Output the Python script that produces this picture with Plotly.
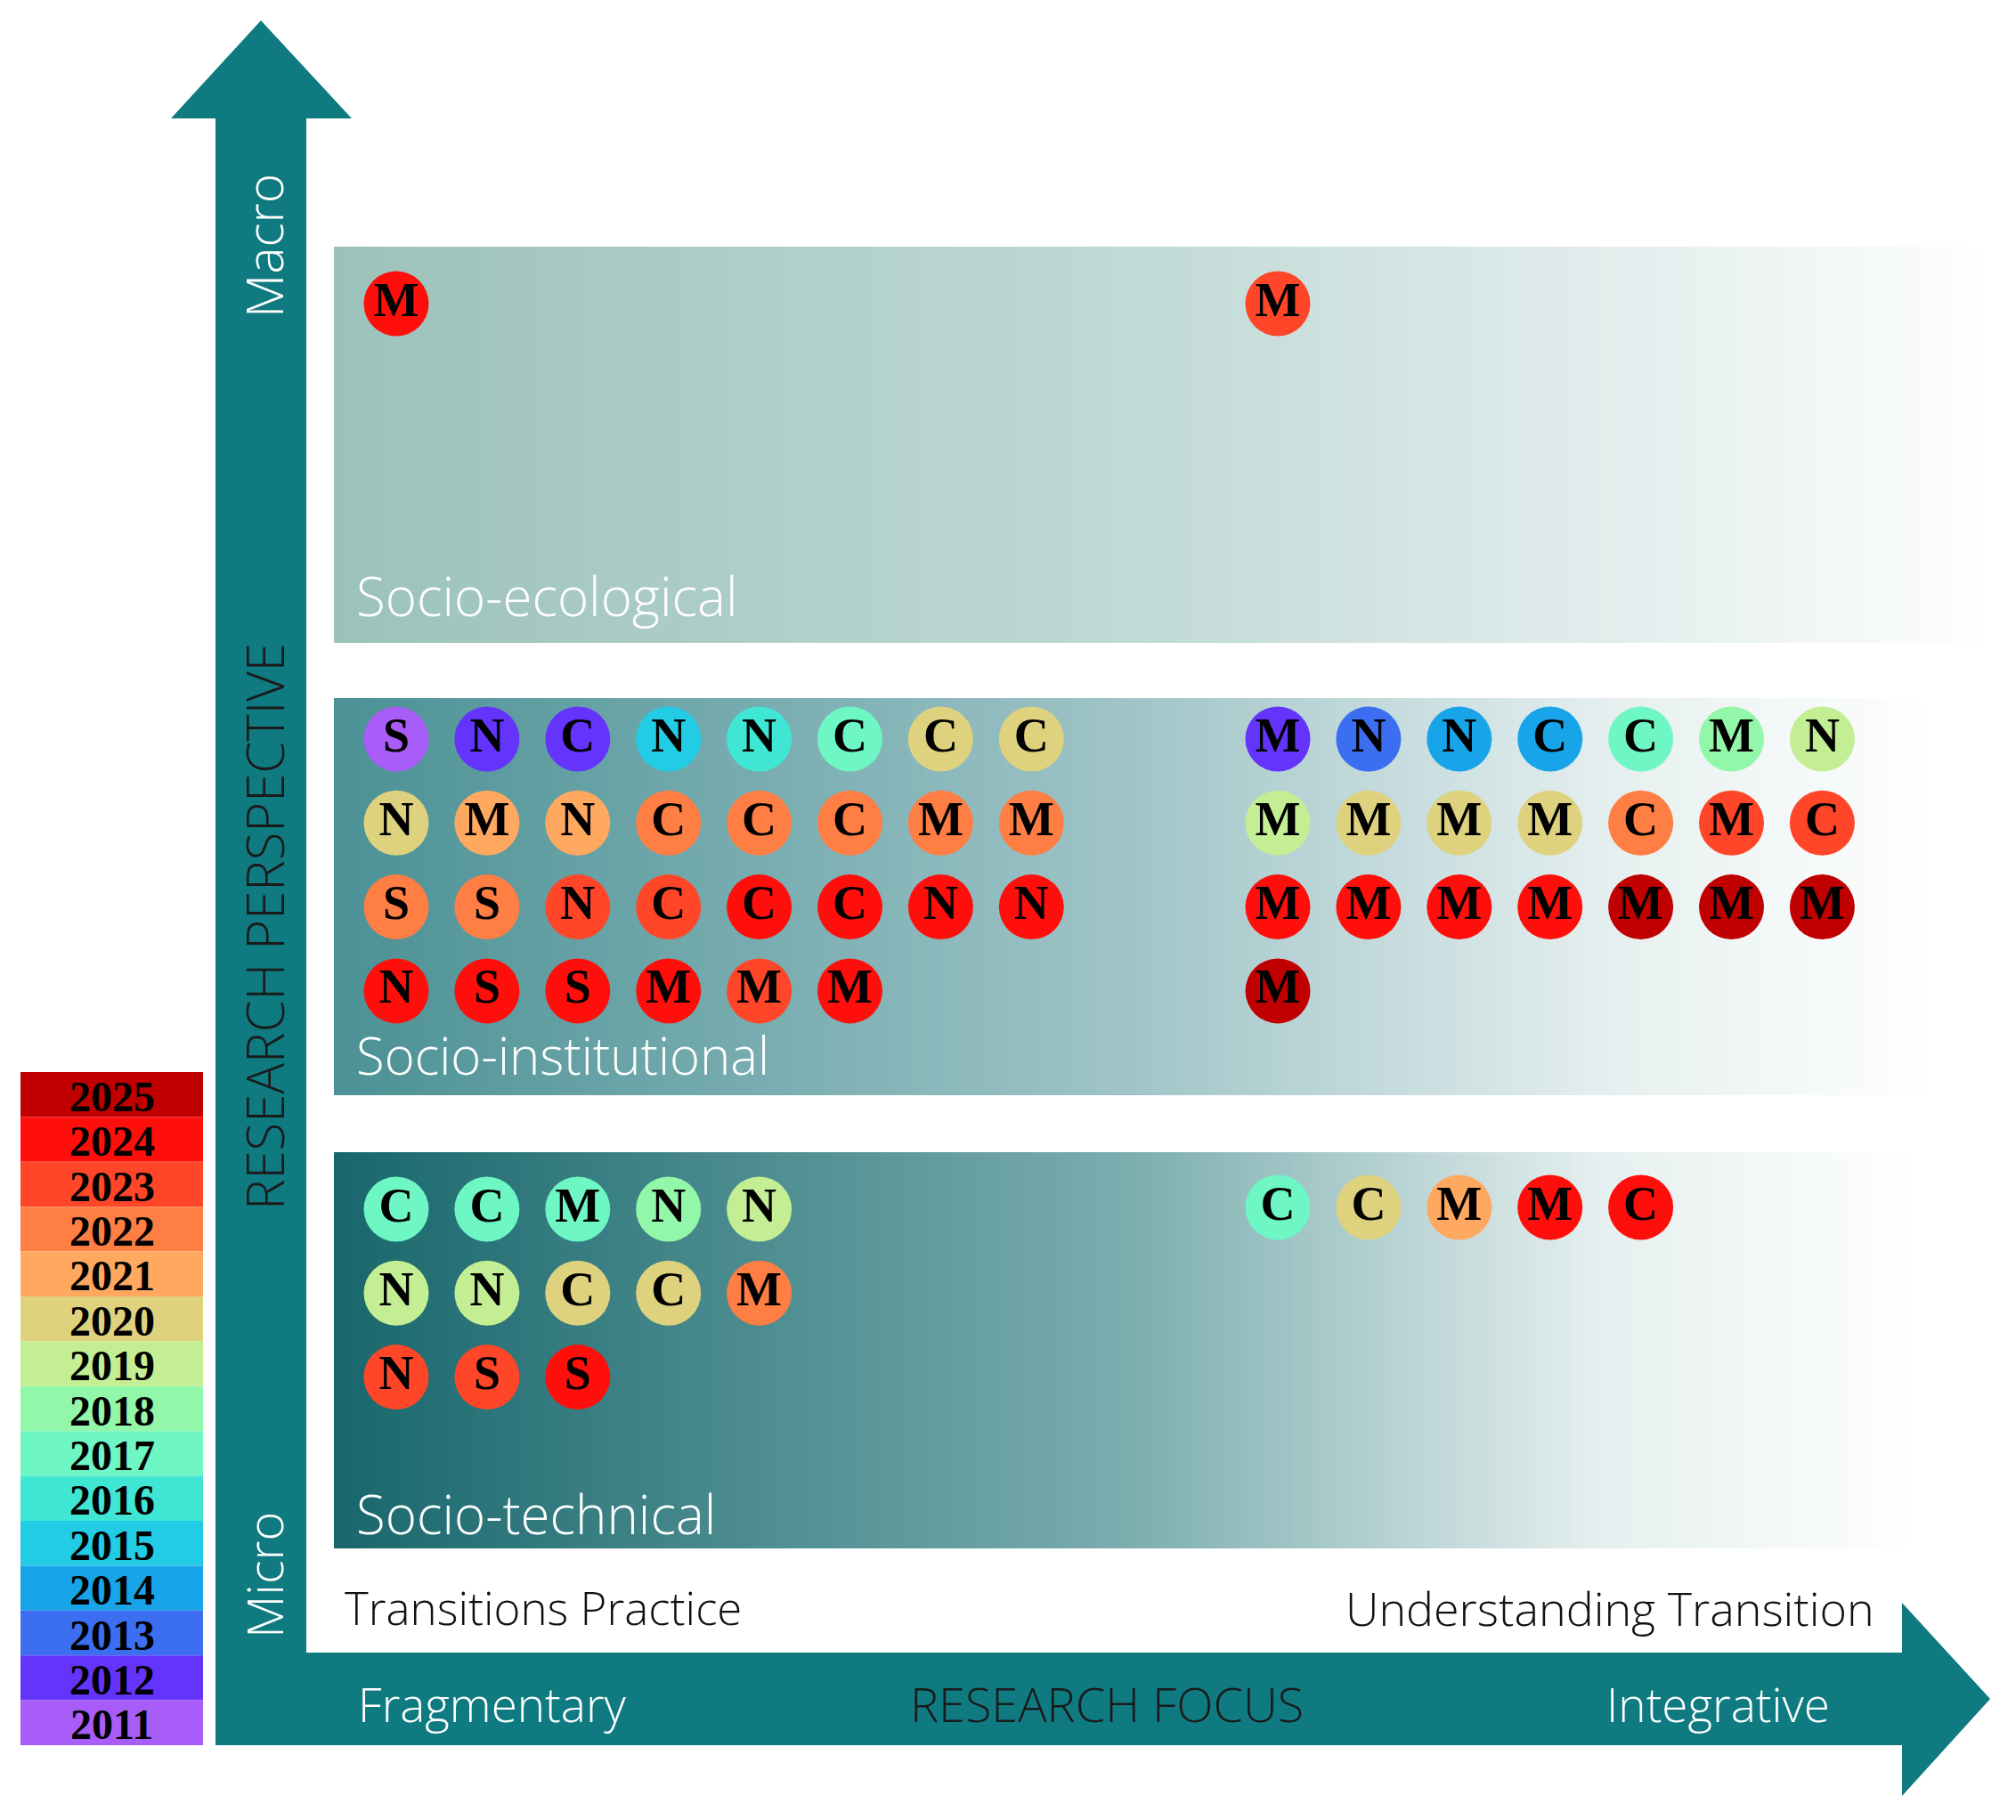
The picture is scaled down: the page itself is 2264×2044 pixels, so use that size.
import numpy as np
import plotly.graph_objects as go

W, H = 2264, 2044
PAGE_PAD = 8  # default body margin of the html page

# ---------------- data ----------------
years = [2025, 2024, 2023, 2022, 2021, 2020, 2019, 2018, 2017, 2016, 2015, 2014, 2013, 2012, 2011]
year_colors = ["#C00000", "#FF0F0C", "#FF4628", "#FF7E44", "#FFA860", "#DED27F", "#C3EE93",
               "#93F7A9", "#6EF6C4", "#40E6D4", "#22CCE4", "#18A4E8", "#3C6EF2", "#6434FC", "#A85CF8"]

# Socio-ecological
eco_left_codes = [["M"]]
eco_left_years = [[2024]]
eco_right_codes = [["M"]]
eco_right_years = [[2023]]

# Socio-institutional
inst_left_codes = [["S", "N", "C", "N", "N", "C", "C", "C"],
                   ["N", "M", "N", "C", "C", "C", "M", "M"],
                   ["S", "S", "N", "C", "C", "C", "N", "N"],
                   ["N", "S", "S", "M", "M", "M"]]
inst_left_years = [[2011, 2012, 2012, 2015, 2016, 2017, 2020, 2020],
                   [2020, 2021, 2021, 2022, 2022, 2022, 2022, 2022],
                   [2022, 2022, 2023, 2023, 2024, 2024, 2024, 2024],
                   [2024, 2024, 2024, 2024, 2023, 2024]]
inst_right_codes = [["M", "N", "N", "C", "C", "M", "N"],
                    ["M", "M", "M", "M", "C", "M", "C"],
                    ["M", "M", "M", "M", "M", "M", "M"],
                    ["M"]]
inst_right_years = [[2012, 2013, 2014, 2014, 2017, 2018, 2019],
                    [2019, 2020, 2020, 2020, 2022, 2023, 2023],
                    [2024, 2024, 2024, 2024, 2025, 2025, 2025],
                    [2025]]

# Socio-technical
tech_left_codes = [["C", "C", "M", "N", "N"],
                   ["N", "N", "C", "C", "M"],
                   ["N", "S", "S"]]
tech_left_years = [[2017, 2017, 2017, 2018, 2019],
                   [2019, 2019, 2020, 2020, 2022],
                   [2023, 2023, 2024]]
tech_right_codes = [["C", "C", "M", "M", "C"]]
tech_right_years = [[2017, 2020, 2021, 2024, 2024]]

panel_names = ["Socio-ecological", "Socio-institutional", "Socio-technical"]
axis_texts = {"macro": "Macro", "micro": "Micro", "vtitle": "RESEARCH PERSPECTIVE",
              "htitle": "RESEARCH FOCUS", "hleft": "Fragmentary", "hright": "Integrative",
              "left_top": "Transitions Practice", "right_top": "Understanding Transition"}

# ---------------- layout geometry ----------------
TEAL = "#0F7B80"
color_of = dict(zip(years, year_colors))

panels = [  # (top, bottom, left, right, left colour, mid colour)
    (277, 722, 375, 2240, "#9BC2BA", "#C2DBD7"),
    (784, 1230, 375, 2172, "#4B9195", "#A0C5C8"),
    (1294, 1739, 375, 2155, "#18676C", "#7BADAF"),
]
label_y = [669, 1184, 1700]
label_size = [60, 58, 60]

COL_DX = 101.9
ROW_DY = 94.3
LEFT_X0 = 445
RIGHT_X0 = 1435

groups = [
    (eco_left_codes, eco_left_years, LEFT_X0, 341),
    (eco_right_codes, eco_right_years, RIGHT_X0, 341),
    (inst_left_codes, inst_left_years, LEFT_X0, 830),
    (inst_right_codes, inst_right_years, RIGHT_X0, 830),
    (tech_left_codes, tech_left_years, LEFT_X0, 1358),
    (tech_right_codes, tech_right_years, RIGHT_X0, 1356),
]

fig = go.Figure()

# gradient panels
for (top, bot, left, right, c0, cm) in panels:
    n = 260
    xe = np.linspace(left, right, n + 1)
    zc = ((xe[:-1] + xe[1:]) / 2 - left) / (right - left)
    fig.add_trace(go.Heatmap(
        x=xe, y=[top, bot], z=[zc.tolist()],
        colorscale=[[0, c0], [0.5, cm], [0.8, "#E6EFEF"], [1, "#FFFFFF"]],
        zmin=0, zmax=1, showscale=False, hoverinfo="skip", zsmooth=False))

# circles
for codes, yrs, x0, y0 in groups:
    xs, ys, txt, cols = [], [], [], []
    for r, (crow, yrow) in enumerate(zip(codes, yrs)):
        for c, (code, yr) in enumerate(zip(crow, yrow)):
            xs.append(x0 + c * COL_DX)
            ys.append(y0 + r * ROW_DY)
            txt.append(code)
            cols.append(color_of[yr])
    fig.add_trace(go.Scatter(
        x=xs, y=ys, text=txt, mode="markers+text",
        marker=dict(size=73, color=cols, line=dict(width=0)),
        textposition="middle center",
        textfont=dict(family="Liberation Serif", size=54, color="black", weight="bold"),
        hoverinfo="skip", cliponaxis=False))

shapes = []
annotations = []

# arrows
shapes.append(dict(type="path", xref="x", yref="y", line=dict(width=0), fillcolor=TEAL, layer="below",
                   path="M 242 1960 L 242 133 L 192 133 L 293 23 L 395 133 L 344 133 L 344 1960 Z"))
shapes.append(dict(type="path", xref="x", yref="y", line=dict(width=0), fillcolor=TEAL, layer="below",
                   path="M 242 1856 L 2136 1856 L 2136 1800 L 2235 1908 L 2136 2017 L 2136 1960 L 242 1960 Z"))

# legend
LEG_X0, LEG_X1, LEG_Y0, LEG_DY = 23, 228, 1204, 50.4
for i, (yr, col) in enumerate(zip(years, year_colors)):
    y_top = LEG_Y0 + i * LEG_DY
    shapes.append(dict(type="rect", xref="x", yref="y", x0=LEG_X0, x1=LEG_X1, y0=y_top, y1=y_top + LEG_DY,
                       fillcolor=col, line=dict(width=0), layer="below"))
    annotations.append(dict(x=(LEG_X0 + LEG_X1) / 2, y=y_top + LEG_DY / 2 + 2, text=str(yr), showarrow=False,
                            font=dict(family="Liberation Serif", size=48, color="black", weight="bold"),
                            xanchor="center", yanchor="middle"))

SANS = "Open Sans"
for name, yl, fs in zip(panel_names, label_y, label_size):
    annotations.append(dict(x=398, y=yl, text=name, showarrow=False, xanchor="left", yanchor="middle",
                            font=dict(family=SANS, size=fs, color="white", weight=300)))

annotations += [
    dict(x=296, y=276, text=axis_texts["macro"], textangle=-90, showarrow=False,
         font=dict(family=SANS, size=57, color="white", weight=300)),
    dict(x=296, y=1769, text=axis_texts["micro"], textangle=-90, showarrow=False,
         font=dict(family=SANS, size=56, color="white", weight=300)),
    dict(x=296, y=1041, text=axis_texts["vtitle"], textangle=-90, showarrow=False,
         font=dict(family=SANS, size=58, color="#1A1A1A", weight=300)),
    dict(x=1243, y=1913, text=axis_texts["htitle"], showarrow=False,
         font=dict(family=SANS, size=54, color="#1A1A1A", weight=300)),
    dict(x=400, y=1913, text=axis_texts["hleft"], showarrow=False, xanchor="left",
         font=dict(family=SANS, size=53, color="white", weight=300)),
    dict(x=1929, y=1913, text=axis_texts["hright"], showarrow=False,
         font=dict(family=SANS, size=53, color="white", weight=300)),
    dict(x=385, y=1805, text=axis_texts["left_top"], showarrow=False, xanchor="left",
         font=dict(family=SANS, size=51, color="#111111", weight=300)),
    dict(x=2107, y=1805, text=axis_texts["right_top"], showarrow=False, xanchor="right",
         font=dict(family=SANS, size=52, color="#111111", weight=300)),
]

fig.update_layout(
    width=W, height=H, margin=dict(l=0, r=0, t=0, b=0),
    paper_bgcolor="white", plot_bgcolor="white", showlegend=False,
    xaxis=dict(range=[PAGE_PAD, W + PAGE_PAD], visible=False, fixedrange=True),
    yaxis=dict(range=[H + PAGE_PAD, PAGE_PAD], visible=False, fixedrange=True),
    shapes=shapes, annotations=annotations,
)

fig.write_html("out.html")
